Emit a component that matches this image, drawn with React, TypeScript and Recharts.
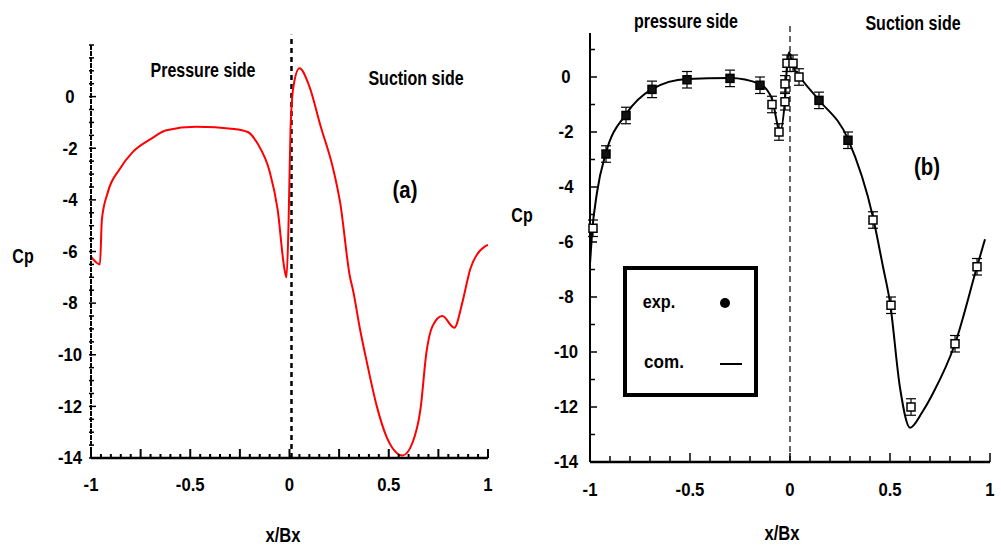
import React from 'react';
import { ComposedChart, Line, Scatter, XAxis, YAxis, ReferenceLine, ErrorBar } from 'recharts';

// ---------- Panel (a) : computed Cp (red) ----------
const aX = [-1, -0.955, -0.945, -0.915, -0.855, -0.79, -0.7, -0.62, -0.47, -0.28, -0.21, -0.16, -0.1, -0.06, -0.025, -0.015, -0.005, 0.005, 0.02, 0.05, 0.1, 0.155, 0.22, 0.255, 0.305, 0.32, 0.355, 0.39, 0.44, 0.49, 0.57, 0.62, 0.66, 0.69, 0.72, 0.77, 0.83, 0.87, 0.9, 0.91, 0.985, 1.0];
const aCp = [-6.2, -6.5, -4.75, -3.7, -2.8, -2.15, -1.65, -1.3, -1.17, -1.25, -1.37, -1.83, -2.9, -4.36, -6.7, -7.0, -5.0, -1.3, 0.4, 1.1, 0.4, -1.1, -2.8, -4.1, -7.0, -7.5, -9.0, -10.3, -12.0, -13.2, -13.9, -13.4, -12.1, -9.9, -8.9, -8.5, -8.95, -8.0, -7.0, -6.7, -5.8, -5.75];

// ---------- Panel (b) : computation line + experiment ----------
const bX = [-1, -0.99, -0.965, -0.92, -0.82, -0.69, -0.515, -0.3, -0.15, -0.09, -0.05, -0.025, -0.015, -0.005, 0.015, 0.05, 0.14, 0.29, 0.415, 0.465, 0.5, 0.55, 0.6, 0.66, 0.715, 0.825, 0.935, 0.975];
const bCp = [-6.8, -5.7, -4.2, -2.75, -1.35, -0.44, -0.07, -0.04, -0.26, -0.8, -1.97, -0.8, 0.4, 0.9, 0.4, 0.0, -0.8, -2.26, -5.1, -6.9, -8.2, -11.3, -12.75, -12.2, -11.5, -9.7, -6.9, -5.9];

const expX = [-0.985, -0.92, -0.82, -0.69, -0.515, -0.3, -0.15, -0.09, -0.055, -0.025, -0.025, -0.015, 0.015, 0.045, 0.145, 0.29, 0.415, 0.505, 0.605, 0.825, 0.935];
const expCp = [-5.5, -2.8, -1.4, -0.45, -0.1, -0.05, -0.3, -1.0, -2.0, -0.9, -0.25, 0.5, 0.5, 0.0, -0.85, -2.3, -5.2, -8.3, -12.0, -9.7, -6.9];
const expErr = [0.3, 0.3, 0.3, 0.3, 0.3, 0.3, 0.3, 0.3, 0.3, 0.3, 0.3, 0.3, 0.3, 0.3, 0.3, 0.3, 0.3, 0.3, 0.3, 0.3, 0.3];

// ---------- Ticks ----------
const aMajorX = [-1, -0.5, 0, 0.5, 1];
const aMidX = [-0.75, -0.25, 0.25, 0.75];
const aMajorY = [0, -2, -4, -6, -8, -10, -12, -14];
const bMajorX = [-1, -0.5, 0, 0.5, 1];
const bMajorY = [0, -2, -4, -6, -8, -10, -12, -14];

const range = (a: number, b: number, s: number) => {
  const out: number[] = [];
  const n = Math.round((b - a) / s);
  for (let i = 0; i <= n; i++) out.push(Math.round((a + i * s) * 1000) / 1000);
  return out;
};
const aTicksX = range(-1, 1, 0.05);
const aTicksY = range(-14, 2, 0.5);
const bTicksX = range(-1, 1, 0.1);
const bTicksY = range(-14, 1, 1);

const aData = aX.map((x, i) => ({ x, cp: aCp[i] }));
const bData = bX.map((x, i) => ({ x, cp: bCp[i] }));
const expData = expX.map((x, i) => ({ x, cp: expCp[i], err: expErr[i] }));

const FONT = '"Liberation Sans", Arial, sans-serif';

const T = ({ x, y, size, sx = 0.85, children, weight = 'bold' }: any) => (
  <text
    transform={`translate(${x},${y}) scale(${sx},1)`}
    textAnchor="middle"
    dominantBaseline="central"
    fontFamily={FONT}
    fontWeight={weight}
    fontSize={size}
    fill="#000"
  >
    {children}
  </text>
);

const has = (arr: number[], v: number) => arr.some((a) => Math.abs(a - v) < 1e-6);

const fmt = (v: number) => String(v);

const ATickX = (props: any) => {
  const { x, y, payload } = props;
  const v = payload.value;
  const major = has(aMajorX, v);
  const mid = has(aMidX, v);
  const len = major || mid ? 9 : 4;
  return (
    <g>
      <line x1={x} x2={x} y1={y} y2={y - len} stroke="#000" strokeWidth={2} />
      {major && <T x={x} y={y + 27} size={19} sx={0.88}>{fmt(v)}</T>}
    </g>
  );
};
const ATickY = (props: any) => {
  const { x, y, payload } = props;
  const v = payload.value;
  const major = has(aMajorY, v);
  return (
    <g>
      <line x1={x - 2} x2={x + (major ? 5 : 3)} y1={y} y2={y} stroke="#000" strokeWidth={1.5} />
      {major && <T x={x - 21} y={y} size={19} sx={0.88}>{fmt(v)}</T>}
    </g>
  );
};
const BTickX = (props: any) => {
  const { x, y, payload } = props;
  const v = payload.value;
  const major = has(bMajorX, v);
  return (
    <g>
      <line x1={x} x2={x} y1={y} y2={y - (major ? 9 : 6)} stroke="#000" strokeWidth={1.5} />
      {major && <T x={x} y={y + 28} size={19} sx={0.88}>{fmt(v)}</T>}
    </g>
  );
};
const BTickY = (props: any) => {
  const { x, y, payload } = props;
  const v = payload.value;
  const major = has(bMajorY, v);
  return (
    <g>
      <line x1={x} x2={x + (major ? 7 : 5)} y1={y} y2={y} stroke="#000" strokeWidth={1.5} />
      {major && <T x={x - 24} y={y} size={19} sx={0.88}>{fmt(v)}</T>}
    </g>
  );
};

const Square = (props: any) => {
  const { cx, cy, payload } = props;
  if (cx == null || cy == null) return null;
  const xv = payload.x;
  const filled = (xv > -0.95 && xv < -0.1) || (xv > 0.1 && xv < 0.35);
  return (
    <rect x={cx - 4} y={cy - 4} width={8} height={8} fill={filled ? '#111' : '#fff'} stroke="#000" strokeWidth={1.5} />
  );
};

export default function App() {
  return (
    <div style={{ position: 'absolute', left: 0, top: 0, width: 1001, height: 547, background: '#fff', overflow: 'hidden' }}>
      <div style={{ position: 'absolute', left: 0, top: 0 }}>
        <ComposedChart width={500} height={547} data={aData} margin={{ top: 45, right: 12, bottom: 88, left: 90 }}>
          <XAxis
            type="number"
            dataKey="x"
            domain={[-1, 1]}
            ticks={aTicksX}
            interval={0}
            tick={<ATickX />}
            tickLine={false}
            tickSize={0}
            tickMargin={0}
            height={1}
            axisLine={{ stroke: '#000', strokeWidth: 2.5 }}
          />
          <YAxis
            type="number"
            domain={[-14, 2]}
            ticks={aTicksY}
            interval={0}
            tick={<ATickY />}
            tickLine={false}
            tickSize={0}
            tickMargin={0}
            width={1}
            allowDataOverflow
            axisLine={{ stroke: '#000', strokeWidth: 2, strokeDasharray: '5 1' }}
          />
          <ReferenceLine
            segment={[{ x: 0.01, y: -14 }, { x: 0.01, y: 2.4 }]}
            ifOverflow="visible"
            stroke="#000"
            strokeWidth={2.5}
            strokeDasharray="5 4"
          />
          <Line type="monotone" dataKey="cp" stroke="#ff0000" strokeWidth={2} dot={false} isAnimationActive={false} />
        </ComposedChart>
      </div>
      <div style={{ position: 'absolute', left: 500, top: 0 }}>
        <ComposedChart width={501} height={547} data={bData} margin={{ top: 33, right: 11, bottom: 84, left: 89 }}>
          <XAxis
            type="number"
            dataKey="x"
            domain={[-1, 1]}
            ticks={bTicksX}
            interval={0}
            tick={<BTickX />}
            tickLine={false}
            tickSize={0}
            tickMargin={0}
            height={1}
            axisLine={{ stroke: '#000', strokeWidth: 2.5 }}
          />
          <YAxis
            type="number"
            domain={[-14, 1.6]}
            ticks={bTicksY}
            interval={0}
            tick={<BTickY />}
            tickLine={false}
            tickSize={0}
            tickMargin={0}
            width={1}
            allowDataOverflow
            axisLine={{ stroke: '#000', strokeWidth: 2 }}
          />
          <ReferenceLine
            segment={[{ x: 0, y: -14 }, { x: 0, y: 1.9 }]}
            ifOverflow="visible"
            stroke="#000"
            strokeWidth={1.2}
            strokeDasharray="6 4"
          />
          <Line type="monotone" dataKey="cp" stroke="#000" strokeWidth={2} dot={false} isAnimationActive={false} />
          <Scatter data={expData} dataKey="cp" shape={<Square />} isAnimationActive={false}>
            <ErrorBar dataKey="err" direction="y" width={5} stroke="#000" strokeWidth={1.2} />
          </Scatter>
        </ComposedChart>
      </div>
      <svg width={1001} height={547} style={{ position: 'absolute', left: 0, top: 0, pointerEvents: 'none' }}>
        {/* panel (a) annotations */}
        <T x={203} y={70} size={20} sx={0.8}>Pressure side</T>
        <T x={416} y={78} size={20} sx={0.8}>Suction side</T>
        <T x={405} y={190} size={24} sx={0.85}>(a)</T>
        <T x={23} y={256} size={20} sx={0.8}>Cp</T>
        <T x={283} y={535} size={20} sx={0.83}>x/Bx</T>
        {/* panel (b) annotations */}
        <T x={686} y={21} size={20} sx={0.8}>pressure side</T>
        <T x={913} y={23} size={20} sx={0.8}>Suction side</T>
        <T x={927} y={167} size={24} sx={0.85}>(b)</T>
        <T x={522} y={215} size={20} sx={0.8}>Cp</T>
        <T x={782} y={533} size={20} sx={0.83}>x/Bx</T>
        {/* legend */}
        <rect x={625} y={268} width={131} height={127} fill="#fff" stroke="#000" strokeWidth={4} />
        <T x={659} y={302} size={18} sx={0.9}>exp.</T>
        <circle cx={725} cy={303} r={5} fill="#000" />
        <T x={664} y={362} size={18} sx={0.95}>com.</T>
        <line x1={720} x2={742} y1={364} y2={364} stroke="#000" strokeWidth={2} />
      </svg>
    </div>
  );
}
